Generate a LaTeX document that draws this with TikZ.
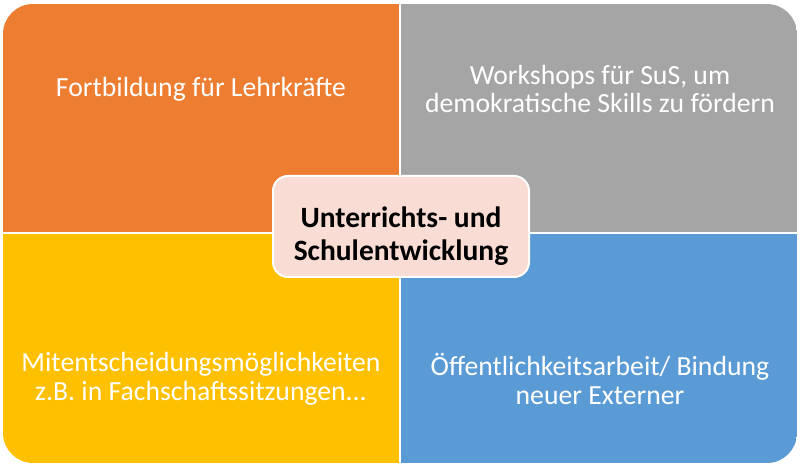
\documentclass[tikz,border=0pt]{standalone}
\usepackage{fontspec}
\setmainfont{Carlito}
\definecolor{qorange}{HTML}{ED7D31}
\definecolor{qgray}{HTML}{A5A5A5}
\definecolor{qyellow}{HTML}{FFC000}
\definecolor{qblue}{HTML}{5B9BD5}
\definecolor{qpink}{HTML}{F9DCD3}
\tikzset{
  quadtext/.style={text=white,align=center,font=\fontsize{27.7}{28.5}\selectfont},
  centerbox/.style={draw=white,line width=2pt,fill=qpink,rounded corners=15pt,
    minimum width=256pt,minimum height=101pt},
  titeltext/.style={align=center,font=\fontsize{29.5}{33}\selectfont\bfseries}
}
\begin{document}
\begin{tikzpicture}[x=1pt,y=1pt]
\useasboundingbox (0,0) rectangle (800,466);

\begin{scope}
\clip[rounded corners=30pt] (3,3) rectangle (797,462);
\fill[qorange] (3,234) rectangle (399,462);
\fill[qgray] (401,234) rectangle (797,462);
\fill[qyellow] (3,3) rectangle (399,232);
\fill[qblue] (401,3) rectangle (797,232);
\end{scope}

\node[quadtext] (lehrer) at (201,377) {Fortbildung für Lehrkräfte};
\node[quadtext] (sus) at (600,377) {Workshops für SuS, um\\demokratische Skills zu fördern};
\node[quadtext] (mitent) at (201,87) {Mitentscheidungsmöglichkeiten\\z.B. in Fachschaftssitzungen...};
\node[quadtext] (extern) at (600,87) {Öffentlichkeitsarbeit/ Bindung\\neuer Externer};

\node[centerbox] (mitte) at (401,239.5) {};
\node[titeltext] (titel) at (401,230) {Unterrichts- und\\Schulentwicklung};

\end{tikzpicture}
\end{document}
